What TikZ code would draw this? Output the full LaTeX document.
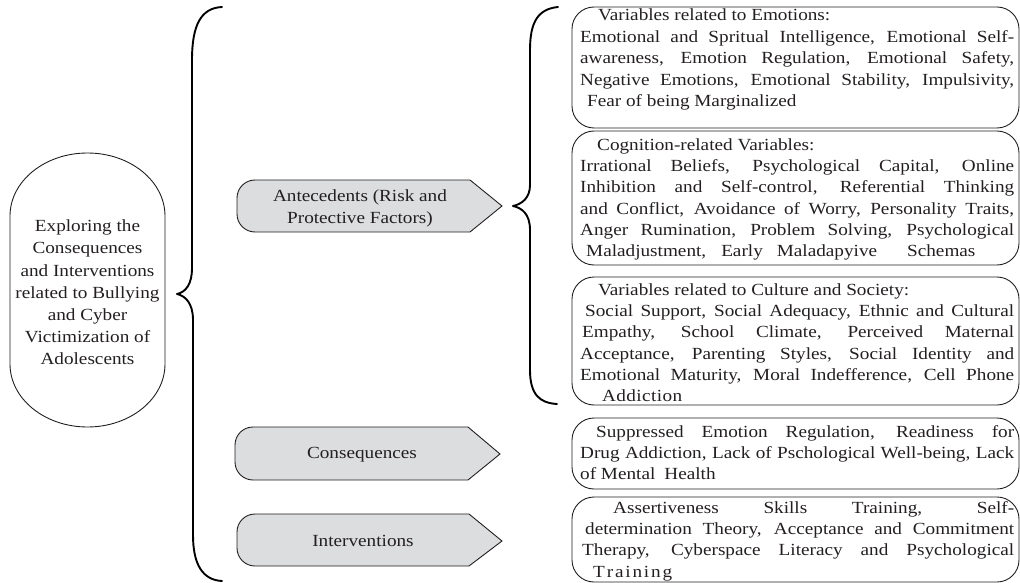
\documentclass[tikz,border=0pt]{standalone}
\usepackage{fontspec}
\setmainfont{Liberation Serif}[FakeStretch=1.13]
\definecolor{ink}{HTML}{231F20}
\definecolor{fillg}{HTML}{DCDDDE}
\newcommand\jline[2][0pt]{\hspace*{#1}\makebox[\dimexpr 434pt-#1\relax][s]{#2}}
\tikzset{
  txt/.style={font=\fontsize{17}{21.2}\selectfont, text=ink, inner sep=0pt},
  lbl/.style={txt, align=center, font=\fontsize{17}{22}\selectfont},
  brc/.style={line width=1.9pt, line cap=round, line join=round, draw=black},
  rbox/.style={draw=ink, line width=0.9pt, rounded corners=22pt},
  abox/.style={draw=ink, fill=fillg, line width=0.9pt},
  obox/.style={draw=ink, line width=0.9pt},
}
\begin{document}
\begin{tikzpicture}[x=1pt,y=-1pt]
\useasboundingbox (0,0) rectangle (1020,583);

% main oval-like box
\draw[obox] (10,216) .. controls (10,181.2) and (44.7,153) .. (87.5,153)
  .. controls (130.3,153) and (165,181.2) .. (165,216) -- (165,364)
  .. controls (165,398.8) and (130.3,427) .. (87.5,427)
  .. controls (44.7,427) and (10,398.8) .. (10,364) -- cycle;
\node[lbl, font=\fontsize{17}{22.2}\selectfont] (main) at (87.5,292.5)
  {Exploring the\\Consequences\\and Interventions\\related to Bullying\\and Cyber\\Victimization of\\Adolescents};

% left brace
\draw[brc] (222,7) .. controls (201,8) and (192,25) .. (192,60) -- (192,268)
  .. controls (192,284) and (186,292) .. (177,294)
  .. controls (186,296) and (193,304) .. (193,320) -- (193,535)
  .. controls (193,565) and (203,580) .. (222,581);

% arrow boxes
\draw[abox] (470,180) -- (502,206) -- (470,232) -- (255,232)
  .. controls (245.1,232) and (237,224) .. (237,214) -- (237,198)
  .. controls (237,188) and (245.1,180) .. (255,180) -- cycle;
\node[lbl] (ante) at (360,208) {Antecedents (Risk and\\Protective Factors)};

\draw[abox] (468,427) -- (500,454) -- (468,480) -- (253,480)
  .. controls (243.1,480) and (235,472) .. (235,462) -- (235,445)
  .. controls (235,435) and (243.1,427) .. (253,427) -- cycle;
\node[lbl] (cons) at (362,455) {Consequences};

\draw[abox] (469,514) -- (502,541) -- (469,566) -- (255,566)
  .. controls (245.1,566) and (237,558) .. (237,548) -- (237,532)
  .. controls (237,522) and (245.1,514) .. (255,514) -- cycle;
\node[lbl] (intv) at (363,541) {Interventions};

% right brace
\draw[brc] (558,7) .. controls (538,9) and (530,22) .. (530,50) -- (530,185)
  .. controls (530,198) and (522,204) .. (513,206)
  .. controls (522,208) and (530,214) .. (530,230) -- (530,370)
  .. controls (530,395) and (540,403) .. (557,404);

% right boxes
\draw[rbox] (572,7) rectangle (1019,128);
\node[txt, anchor=base west] (t1) at (580,20.5) {\parbox[t]{434pt}{\fontsize{17}{21.6}\selectfont
\hspace*{18pt}Variables related to Emotions:\\
\jline{Emotional and Spritual Intelligence, Emotional Self-}\\
\jline{awareness, Emotion Regulation, Emotional Safety,}\\
\jline{Negative Emotions, Emotional Stability, Impulsivity,}\\
\hspace*{7pt}Fear of being Marginalized}};

\draw[rbox] (572,131) rectangle (1019,265);
\node[txt, anchor=base west] (t2) at (580,150.5) {\parbox[t]{434pt}{%
\hspace*{17pt}Cognition-related Variables:\\
\jline{Irrational Beliefs, Psychological Capital, Online}\\
\jline{Inhibition and Self-control, Referential Thinking}\\
\jline{and Conflict, Avoidance of Worry, Personality Traits,}\\
\jline{Anger Rumination, Problem Solving, Psychological}\\
\hspace*{6pt}Maladjustment,\hspace{15pt}Early\hspace{14pt}Maladapyive\hspace{30pt}Schemas}};

\draw[rbox] (572,277) rectangle (1019,405);
\node[txt, anchor=base west] (t3) at (580,295.5) {\parbox[t]{434pt}{%
\hspace*{18pt}Variables related to Culture and Society:\\
\jline[5pt]{Social Support, Social Adequacy, Ethnic and Cultural}\\
\jline[2pt]{Empathy, School Climate, Perceived Maternal}\\
\jline{Acceptance, Parenting Styles, Social Identity and}\\
\jline{Emotional Maturity, Moral Indefference, Cell Phone}\\
\hspace*{22pt}\makebox[80pt][s]{A\hfil d\hfil d\hfil i\hfil c\hfil t\hfil i\hfil o\hfil n}}};

\draw[rbox] (572,418) rectangle (1019,489);
\node[txt, anchor=base west] (t4) at (580,437.5) {\parbox[t]{434pt}{%
\jline[16pt]{Suppressed Emotion Regulation, Readiness for}\\
\jline{Drug Addiction, Lack of Pschological Well-being, Lack}\\
of Mental\hspace{9pt}Health}};

\draw[rbox] (572,497) rectangle (1019,582);
\node[txt, anchor=base west] (t5) at (580,513.5) {\parbox[t]{434pt}{%
\jline[33pt]{Assertiveness Skills Training, Self-}\\
\jline[5pt]{determination Theory, Acceptance and Commitment}\\
\jline[2pt]{Therapy, Cyberspace Literacy and Psychological}\\
\hspace*{13pt}\makebox[79pt][s]{T\hfil r\hfil a\hfil i\hfil n\hfil i\hfil n\hfil g}}};
\end{tikzpicture}
\end{document}
